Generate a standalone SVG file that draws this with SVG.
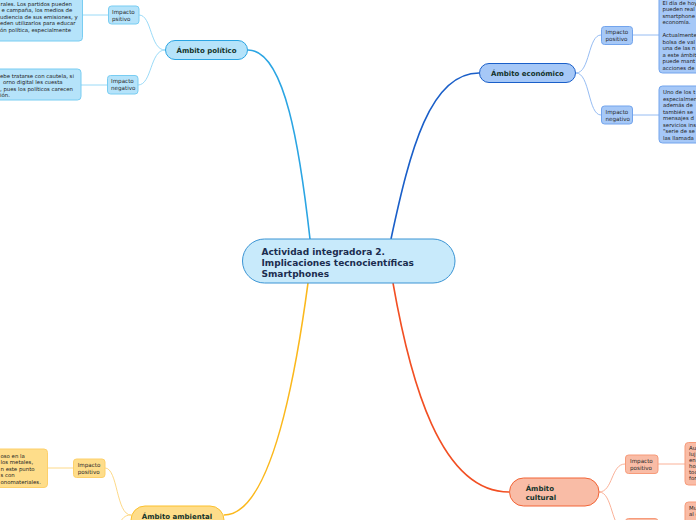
<svg xmlns="http://www.w3.org/2000/svg" width="696" height="520" viewBox="0 0 696 520">
<style>
  text { font-family: "DejaVu Sans", Verdana, sans-serif; }
  .small { font-size: 5.4px; fill: #222222; }
  .imp { font-size: 5.6px; fill: #2a2a2a; }
  .main { font-size: 7px; font-weight: bold; fill: #14332b; }
  .center { font-size: 9px; font-weight: bold; fill: #1b2d4f; }
  .con { fill: none; }
  .pol { fill: #b5e3fa; stroke: #79cdf2; stroke-width: 1; }
  .eco { fill: #a6c8f7; stroke: #72a4ed; stroke-width: 1; }
  .cul { fill: #f9bca6; stroke: #f79b7a; stroke-width: 1; }
  .amb { fill: #fedd8a; stroke: #fdd06a; stroke-width: 1; }
</style>
<rect width="696" height="520" fill="#ffffff"/>

<g id="connectors" class="con">
  <path d="M310,239 C300,150 285,50 248,50" stroke="#2ba5e3" stroke-width="1.6"/>
  <path d="M391,239 C410,150 430,73 479,73" stroke="#1a5fc9" stroke-width="1.6"/>
  <path d="M393,283 C410,380 440,492 509,492" stroke="#f24f23" stroke-width="1.6"/>
  <path d="M308,283 C295,380 270,515 224,515" stroke="#fbb81c" stroke-width="1.6"/>

  <path d="M165,50 C150,50 152,15 139,15" stroke="#8fd6f6" stroke-width="0.9"/>
  <path d="M165,50 C150,50 152,85 138,85" stroke="#8fd6f6" stroke-width="0.9"/>
  <path d="M108,15 L82,15" stroke="#8fd6f6" stroke-width="0.9"/>
  <path d="M107,85 L81,85" stroke="#8fd6f6" stroke-width="0.9"/>

  <path d="M576,73 C590,73 588,35 601,35" stroke="#8ab4f0" stroke-width="0.9"/>
  <path d="M576,73 C590,73 588,115 601,115" stroke="#8ab4f0" stroke-width="0.9"/>
  <path d="M633,35 L659,35" stroke="#8ab4f0" stroke-width="0.9"/>
  <path d="M633,115 L659,115" stroke="#8ab4f0" stroke-width="0.9"/>

  <path d="M599,492 C613,492 611,464 625,464" stroke="#f9a88c" stroke-width="0.9"/>
  <path d="M599,492 C613,492 611,530 625,530" stroke="#f9a88c" stroke-width="0.9"/>
  <path d="M658,464 L685,464" stroke="#f9a88c" stroke-width="0.9"/>

  <path d="M131,515 C116,515 118,468 105,468" stroke="#fdd57a" stroke-width="0.9"/>
  <path d="M131,515 C118,515 120,530 110,545" stroke="#fdd57a" stroke-width="0.9"/>
  <path d="M73,468 L47,468" stroke="#fdd57a" stroke-width="0.9"/>
</g>

<g id="center">
  <rect x="242.5" y="239" width="212.5" height="44" rx="22" fill="#c8eafb" stroke="#3a94d4" stroke-width="1"/>
  <text class="center" x="261.5" y="254.5">Actividad integradora 2.</text>
  <text class="center" x="261.5" y="266">Implicaciones tecnocientíficas</text>
  <text class="center" x="261.5" y="277">Smartphones</text>
</g>

<g id="ambito-politico">
  <rect x="165.5" y="40.5" width="82" height="19" rx="9.5" fill="#b5e3fa" stroke="#2ba5e3" stroke-width="1"/>
  <text class="main" x="206.5" y="52.5" text-anchor="middle">Ámbito político</text>
</g>
<g id="pol-impacto-positivo">
  <rect class="pol" x="108.5" y="6" width="30.5" height="18" rx="3"/>
  <text class="imp" x="112" y="13.5">Impacto</text>
  <text class="imp" x="112" y="20.5">psitivo</text>
</g>
<g id="pol-texto-positivo">
  <rect class="pol" x="-10" y="-10" width="92.5" height="51" rx="3.5"/>
  <text class="small" x="0.5" y="5.5">rales. Los partidos pueden</text>
  <text class="small" x="1.5" y="12">e campaña, los medios de</text>
  <text class="small" x="0" y="18.5">udiencia de sus emisiones, y</text>
  <text class="small" x="0" y="25">eden utilizarlos para educar</text>
  <text class="small" x="0" y="31.5">ón política, especialmente</text>
</g>
<g id="pol-impacto-negativo">
  <rect class="pol" x="107.5" y="75.5" width="30.5" height="18.5" rx="3"/>
  <text class="imp" x="111" y="83">Impacto</text>
  <text class="imp" x="111" y="90">negativo</text>
</g>
<g id="pol-texto-negativo">
  <rect class="pol" x="-10" y="69" width="91" height="31" rx="3.5"/>
  <text class="small" x="0" y="77.5">ebe tratarse con cautela, si</text>
  <text class="small" x="3" y="84">orno digital les cuesta</text>
  <text class="small" x="0" y="90.5">, pues los políticos carecen</text>
  <text class="small" x="0" y="97">ión.</text>
</g>

<g id="ambito-economico">
  <rect x="479.5" y="63.5" width="96" height="19" rx="9.5" fill="#a6c8f7" stroke="#1a5fc9" stroke-width="1"/>
  <text class="main" x="527.5" y="75.5" text-anchor="middle">Ámbito económico</text>
</g>
<g id="eco-impacto-positivo">
  <rect class="eco" x="601.5" y="26.5" width="31" height="18" rx="3"/>
  <text class="imp" x="605.5" y="34">Impacto</text>
  <text class="imp" x="605.5" y="41">positivo</text>
</g>
<g id="eco-texto-positivo">
  <rect class="eco" x="659" y="-10" width="50" height="83" rx="3.5"/>
  <text class="small" x="662.5" y="4.5">El día de hoy</text>
  <text class="small" x="662.5" y="11">pueden real</text>
  <text class="small" x="662.5" y="17.5">smartphone</text>
  <text class="small" x="662.5" y="24">economía.</text>
  <text class="small" x="662.5" y="37">Actualmente</text>
  <text class="small" x="662.5" y="43.5">bolsa de val</text>
  <text class="small" x="662.5" y="50">una de las n</text>
  <text class="small" x="662.5" y="56.5">a este ámbit</text>
  <text class="small" x="662.5" y="63">puede mant</text>
  <text class="small" x="662.5" y="69.5">acciones de</text>
</g>
<g id="eco-impacto-negativo">
  <rect class="eco" x="601.5" y="106" width="31" height="18" rx="3"/>
  <text class="imp" x="605.5" y="113.5">Impacto</text>
  <text class="imp" x="605.5" y="120.5">negativo</text>
</g>
<g id="eco-texto-negativo">
  <rect class="eco" x="659" y="86" width="50" height="57" rx="3.5"/>
  <text class="small" x="663" y="94">Uno de los t</text>
  <text class="small" x="663" y="100.5">especialmen</text>
  <text class="small" x="663" y="107">además de</text>
  <text class="small" x="663" y="113.5">también se</text>
  <text class="small" x="663" y="120">mensajes d</text>
  <text class="small" x="663" y="126.5">servicios ins</text>
  <text class="small" x="663" y="133">"serie de se</text>
  <text class="small" x="663" y="139.5">las llamada</text>
</g>

<g id="ambito-cultural">
  <rect x="509.5" y="478" width="89.5" height="28" rx="14" fill="#f9bca6" stroke="#f26436" stroke-width="1"/>
  <text class="main" x="525.7" y="491">Ámbito</text>
  <text class="main" x="525.7" y="500">cultural</text>
</g>
<g id="cul-impacto-positivo">
  <rect class="cul" x="625.5" y="455" width="32.5" height="18.5" rx="3"/>
  <text class="imp" x="630" y="463">Impacto</text>
  <text class="imp" x="630" y="470">positivo</text>
</g>
<g id="cul-texto-positivo">
  <rect class="cul" x="685" y="442.5" width="30" height="42.5" rx="3.5"/>
  <text class="small" x="689" y="449.5">Au</text>
  <text class="small" x="689" y="456">luj</text>
  <text class="small" x="689" y="462">en</text>
  <text class="small" x="689" y="468">ho</text>
  <text class="small" x="689" y="474">toc</text>
  <text class="small" x="689" y="480">for</text>
</g>
<g id="cul-impacto-negativo">
  <rect class="cul" x="625.5" y="518.5" width="32.5" height="18.5" rx="3"/>
</g>
<g id="cul-texto-negativo">
  <rect class="cul" x="685" y="502" width="30" height="40" rx="3.5"/>
  <text class="small" x="689" y="509.5">Mu</text>
  <text class="small" x="689" y="516">al c</text>
</g>

<g id="ambito-ambiental">
  <rect x="131" y="506" width="93" height="28" rx="14" fill="#fedd8a" stroke="#fbc02d" stroke-width="1"/>
  <text class="main" x="177" y="518.5" text-anchor="middle">Ámbito ambiental</text>
</g>
<g id="amb-impacto-positivo">
  <rect class="amb" x="73.5" y="459" width="31.5" height="18.5" rx="3"/>
  <text class="imp" x="77.7" y="467">Impacto</text>
  <text class="imp" x="77.7" y="474">positivo</text>
</g>
<g id="amb-texto-positivo">
  <rect class="amb" x="-10" y="449" width="57.5" height="38.5" rx="3.5"/>
  <text class="small" x="0.5" y="457.5">oso en la</text>
  <text class="small" x="0.5" y="464">los metales,</text>
  <text class="small" x="0.5" y="470.7">n este punto</text>
  <text class="small" x="0.5" y="477.4">s con</text>
  <text class="small" x="0.5" y="484">onomateriales.</text>
</g>
</svg>
